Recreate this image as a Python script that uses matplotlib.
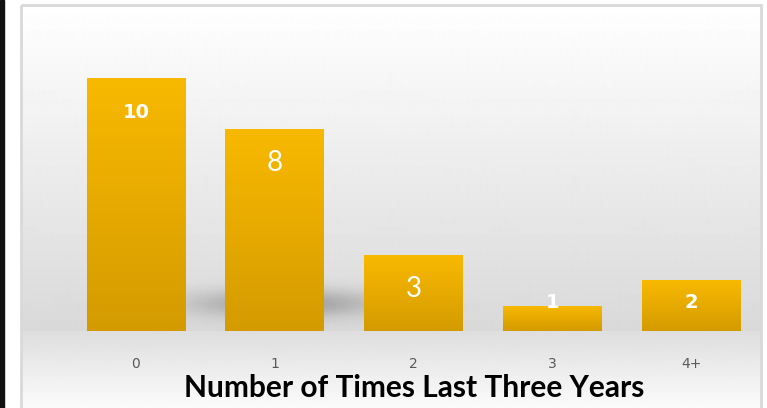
import numpy as np
import matplotlib
matplotlib.use('Agg')
import matplotlib.pyplot as plt
from matplotlib.patches import Rectangle
from matplotlib.colors import LinearSegmentedColormap

categories = ['0', '1', '2', '3', '4+']
counts = [10, 8, 3, 1, 2]
title = 'Number of Times Last Three Years'

W, H = 767, 408
fig = plt.figure(figsize=(W / 100, H / 100), dpi=100)
fig.patch.set_facecolor('white')

# background layer in pixel coords (panel gradient, border, left black strip)
bg = fig.add_axes([0, 0, 1, 1], zorder=0)
bg.set_xlim(0, W)
bg.set_ylim(H, 0)
bg.axis('off')

rows = np.arange(5, H)
vals = np.where(rows < 331,
                1.0 - (rows - 5) / (331 - 5) * 0.15,
                0.87 + (rows - 331) / (H - 331) * 0.115)
grad = np.repeat(vals[:, None], 2, axis=1)
bg.imshow(grad, cmap='gray', vmin=0, vmax=1, extent=(22, 761, H, 5),
          aspect='auto', interpolation='bilinear')
bg.add_patch(Rectangle((21, 5), 740, H, fill=False, ec='#d9d9d9', lw=2))
bg.add_patch(Rectangle((0, 0), 4, H, color='#111111'))

# soft shadow behind the bars
yy, xx = np.mgrid[250:335, 150:500]
sh = np.exp(-((xx - 285) / 95.0) ** 2 - ((yy - 303) / 14.0) ** 2)
rgba = np.zeros(sh.shape + (4,))
rgba[..., 3] = sh * 0.28
bg.imshow(rgba, extent=(150, 500, 335, 250), aspect='auto', interpolation='bilinear')

# main chart
ax = fig.add_axes([66.5 / W, 77 / H, 694 / W, (12 * 25.3) / H], zorder=1)
ax.patch.set_alpha(0)
x = np.arange(len(categories))
bars = ax.bar(x, counts, width=0.71, color='#e8ab00', zorder=2)
ax.set_xlim(-0.5, 4.5)
ax.set_ylim(0, 12)

cmap = LinearSegmentedColormap.from_list('gold', ['#d49b00', '#f9b900'])
g = np.linspace(0, 1, 256)[:, None]
for b in bars:
    x0, w, h = b.get_x(), b.get_width(), b.get_height()
    im = ax.imshow(g, cmap=cmap, extent=(x0, x0 + w, 0, h), origin='lower',
                   aspect='auto', zorder=3)
    im.set_clip_path(b)

# value labels inside bars
lab_style = [('DejaVu Sans', 'bold', 14), ('Lato', 'normal', 20), ('Lato', 'normal', 20),
             ('DejaVu Sans', 'bold', 14), ('DejaVu Sans', 'bold', 14)]
for xi, v, (fam, wt, sz) in zip(x, counts, lab_style):
    ax.text(xi, max(v - 1.35, 1.12), str(v), ha='center', va='center',
            color='white', family=fam, fontweight=wt, fontsize=sz, zorder=4)

ax.set_xticks(x)
ax.set_xticklabels(categories, family='DejaVu Sans', fontsize=10, color='#595959')
ax.tick_params(axis='x', length=0, pad=19)
ax.set_yticks([])
for s in ax.spines.values():
    s.set_visible(False)

fig.text(414 / W, 1 - 388 / H, title, ha='center', va='center',
         family='Lato', fontweight='bold', fontsize=21.5, color='black')

fig.savefig('out.png', dpi=100)
